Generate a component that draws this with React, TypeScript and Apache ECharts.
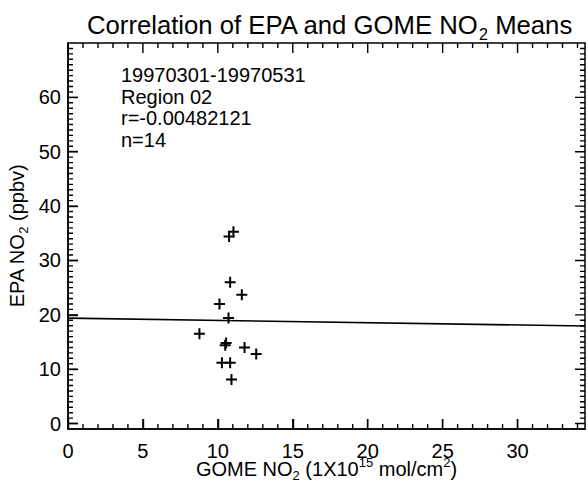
import React, { useEffect, useRef } from "react";
import * as echarts from "echarts";

// GOME NO2 (1e15 mol/cm2) vs EPA NO2 (ppbv) — 14 points
const gomeNO2 = [11.04, 10.75, 10.82, 11.6, 10.11, 10.71, 8.77, 10.49, 10.55, 11.78, 12.56, 10.27, 10.82, 10.91];
const epaNO2 = [35.3, 34.4, 26.0, 23.7, 22.0, 19.4, 16.5, 14.4, 14.8, 14.0, 12.8, 11.2, 11.2, 8.1];

// fitted line end points
const fitX = [0, 34.5];
const fitY = [19.4, 17.95];

const xMajorTicks = [0, 5, 10, 15, 20, 25, 30];
const yMajorTicks = [0, 10, 20, 30, 40, 50, 60];
const xMinorTicks = Array.from({ length: 35 }, (_, i) => i);
const yMinorTicks = Array.from({ length: 70 }, (_, i) => i);

const infoLines = ["19970301-19970531", "Region 02", "r=-0.00482121", "n=14"];

const X_MIN = 0;
const X_MAX = 34.5;
const Y_MIN = -1;
const Y_MAX = 70;

const W = 588;
const H = 486;
const GRID = { left: 68, right: 3, top: 43, bottom: 57 };
const PLOT_W = W - GRID.left - GRID.right;
const PLOT_H = H - GRID.top - GRID.bottom;

const FONT = "Liberation Sans";
const BLACK = "#000";
const MAJOR_LEN = 10; // px
const MINOR_LEN = 5; // px

const rich = {
  n: { fontSize: 20, lineHeight: 26, fontFamily: FONT, color: BLACK, fontWeight: 400 },
  sub: { fontSize: 13, lineHeight: 13, fontFamily: FONT, color: BLACK, fontWeight: 400, verticalAlign: "top", padding: [13, 0, 0, 0] },
  sup: { fontSize: 13, lineHeight: 13, fontFamily: FONT, color: BLACK, fontWeight: 400, verticalAlign: "top", padding: [0, 0, 0, 0] },
};
const titleRich = {
  n: { fontSize: 25.7, lineHeight: 32, fontFamily: FONT, color: BLACK, fontWeight: 400 },
  sub: { fontSize: 16, lineHeight: 16, fontFamily: FONT, color: BLACK, fontWeight: 400, verticalAlign: "top", padding: [17, 0, 0, 0] },
};

const PLUS = "path://M4.5,0h2v4.5h4.5v2h-4.5v4.5h-2v-4.5h-4.5v-2h4.5z";

// tick segments in data units (pixel lengths converted with the axis scale), separated by gaps
function buildTickSegments() {
  const xPerPx = (X_MAX - X_MIN) / PLOT_W;
  const yPerPx = (Y_MAX - Y_MIN) / PLOT_H;
  const segs: any[] = [];
  xMinorTicks.forEach((v) => {
    const len = (xMajorTicks.includes(v) ? MAJOR_LEN : MINOR_LEN) * yPerPx;
    segs.push([v, Y_MIN], [v, Y_MIN + len], [v, "-"]);
    segs.push([v, Y_MAX], [v, Y_MAX - len], [v, "-"]);
  });
  yMinorTicks.forEach((v) => {
    const len = (yMajorTicks.includes(v) ? MAJOR_LEN : MINOR_LEN) * xPerPx;
    segs.push([X_MIN, v], [X_MIN + len, v], ["-", v]);
    segs.push([X_MAX, v], [X_MAX - len, v], ["-", v]);
  });
  return segs;
}

export default function App() {
  const ref = useRef<HTMLDivElement>(null);
  useEffect(() => {
    if (!ref.current) return;
    const chart = echarts.init(ref.current, null, { renderer: "svg" });
    const points = gomeNO2.map((x, i) => [x, epaNO2[i]]);
    const fit = fitX.map((x, i) => [x, fitY[i]]);

    chart.setOption({
      animation: false,
      title: {
        text: "{n|Correlation of EPA and GOME NO}{sub|2}{n| Means}",
        left: 87,
        top: 9,
        padding: 0,
        textStyle: { fontWeight: 400, rich: titleRich },
      },
      grid: {
        ...GRID,
        containLabel: false,
        outerBoundsMode: "none",
        show: true,
        borderColor: BLACK,
        borderWidth: 1.5,
      },
      xAxis: {
        type: "value",
        min: X_MIN,
        max: X_MAX,
        name: "{n|GOME NO}{sub|2}{n| (1X10}{sup|15}{n| mol/cm}{sup|2}{n|)}",
        nameLocation: "middle",
        nameGap: 27,
        nameMoveOverlap: false,
        nameTextStyle: { rich },
        axisLine: { show: true, onZero: false, lineStyle: { color: BLACK, width: 1.5 } },
        axisTick: { show: true, inside: true, length: MAJOR_LEN, customValues: xMajorTicks, lineStyle: { color: BLACK, width: 1.4 } },
        axisLabel: { show: true, customValues: xMajorTicks, fontSize: 20, fontFamily: FONT, color: BLACK, margin: 12 },
        splitLine: { show: false },
      },
      yAxis: {
        type: "value",
        min: Y_MIN,
        max: Y_MAX,
        name: "{n|EPA NO}{sub|2}{n| (ppbv)}",
        nameLocation: "middle",
        nameRotate: 90,
        nameGap: 38,
        nameMoveOverlap: false,
        nameTextStyle: { rich },
        axisLine: { show: true, onZero: false, lineStyle: { color: BLACK, width: 1.5 } },
        axisTick: { show: true, inside: true, length: MAJOR_LEN, customValues: yMajorTicks, lineStyle: { color: BLACK, width: 1.4 } },
        axisLabel: { show: true, customValues: yMajorTicks, fontSize: 20, fontFamily: FONT, color: BLACK, margin: 7 },
        splitLine: { show: false },
      },
      graphic: [
        {
          type: "text",
          left: 121,
          top: 64,
          style: {
            text: infoLines.join("\n"),
            fontSize: 20,
            lineHeight: 21.7,
            fontFamily: FONT,
            fill: BLACK,
          },
        },
      ],
      series: [
        {
          type: "line",
          data: buildTickSegments(),
          symbol: "none",
          connectNulls: false,
          lineStyle: { color: BLACK, width: 1.4 },
        },
        {
          type: "line",
          data: fit,
          symbol: "none",
          lineStyle: { color: BLACK, width: 1.6 },
        },
        {
          type: "scatter",
          data: points,
          symbol: PLUS,
          symbolSize: 11,
          itemStyle: { color: BLACK, opacity: 1 },
        },
      ],
    });
    return () => chart.dispose();
  }, []);
  return <div ref={ref} style={{ width: W, height: H, position: "fixed", left: 0, top: 0, background: "#fff" }} />;
}
